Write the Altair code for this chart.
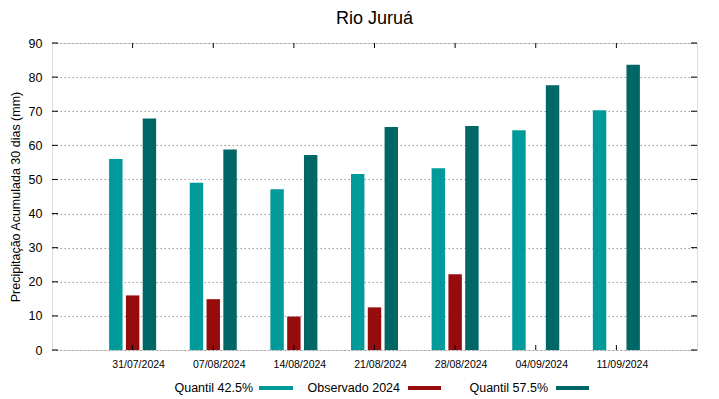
import altair as alt
import pandas as pd

# ---- data ----
dates = ["31/07/2024", "07/08/2024", "14/08/2024", "21/08/2024",
         "28/08/2024", "04/09/2024", "11/09/2024"]
series = ["Quantil 42.5%", "Observado 2024", "Quantil 57.5%"]
q425 = [56.0, 49.0, 47.1, 51.6, 53.3, 64.4, 70.3]
obs = [16.0, 14.9, 9.8, 12.5, 22.2, None, None]
q575 = [67.9, 58.8, 57.2, 65.4, 65.7, 77.6, 83.6]
y_ticks = [0, 10, 20, 30, 40, 50, 60, 70, 80, 90]

colors = ["#009a9a", "#960c0c", "#006666"]
FONT = "Liberation Sans"
W, H = 645, 307

rows = []
for name, vals in zip(series, [q425, obs, q575]):
    for d, v in zip(dates, vals):
        if v is not None:
            rows.append({"date": d, "series": name, "value": v})
df = pd.DataFrame(rows)

color_scale = alt.Scale(domain=series, range=colors)
x_scale = alt.Scale(domain=dates, paddingInner=0, paddingOuter=0.5)
y_scale = alt.Scale(domain=[0, 90], nice=False, zero=True)

x_axis = alt.Axis(title=None, labelAngle=0, ticks=False, domain=False,
                  labelFontSize=10.5, labelPadding=9, labelOffset=6,
                  labelFont=FONT, labelColor="black")
y_axis = alt.Axis(values=y_ticks, title="Precipitação Acumulada 30 dias (mm)",
                  ticks=False, domain=False, labelFontSize=12.5, labelPadding=10,
                  labelFont=FONT, labelColor="black", labelOverlap=False,
                  labelFlush=False,
                  titleFont=FONT, titleFontSize=12.5, titleFontWeight="normal",
                  titleColor="black", titlePadding=6,
                  grid=True, gridColor="#9a9a9a", gridDash=[1.5, 2.5],
                  gridWidth=1)

bars = alt.Chart(df).mark_bar().encode(
    x=alt.X("date:N", sort=dates, scale=x_scale, axis=x_axis),
    xOffset=alt.XOffset("series:N", sort=series,
                        scale=alt.Scale(domain=series, paddingInner=0.2, paddingOuter=1)),
    y=alt.Y("value:Q", scale=y_scale, axis=y_axis),
    color=alt.Color("series:N", scale=color_scale, legend=None),
)

tick_df = pd.DataFrame({"v": y_ticks})
left_ticks = alt.Chart(tick_df).mark_rule(color="black", strokeWidth=1).encode(
    y=alt.Y("v:Q", scale=y_scale, axis=y_axis), x=alt.value(0), x2=alt.value(6))
right_ticks = alt.Chart(tick_df).mark_rule(color="black", strokeWidth=1).encode(
    y=alt.Y("v:Q", scale=y_scale, axis=y_axis), x=alt.value(W), x2=alt.value(W - 6))

date_df = pd.DataFrame({"date": dates})
bottom_ticks = alt.Chart(date_df).mark_rule(color="black", strokeWidth=1).encode(
    x=alt.X("date:N", sort=dates, scale=x_scale, axis=x_axis),
    y=alt.value(H), y2=alt.value(H - 5))
top_ticks = alt.Chart(date_df).mark_rule(color="black", strokeWidth=1).encode(
    x=alt.X("date:N", sort=dates, scale=x_scale, axis=x_axis),
    y=alt.value(0), y2=alt.value(5))

# custom legend: label then colour sample (gnuplot style)
legend_text_right = [201, 348, 496]
legend_sample = [(207, 241), (356, 389), (504, 537)]
legend_y = 345
legend_layers = []
for s, tx, (sx1, sx2) in zip(series, legend_text_right, legend_sample):
    ldf = pd.DataFrame({"series": [s]})
    legend_layers.append(
        alt.Chart(ldf).mark_text(align="right", baseline="middle", font=FONT,
                                 fontSize=12.5, color="black").encode(
            text="series:N", x=alt.value(tx), y=alt.value(legend_y)))
    legend_layers.append(
        alt.Chart(ldf).mark_rule(strokeWidth=4).encode(
            x=alt.value(sx1), x2=alt.value(sx2), y=alt.value(legend_y),
            color=alt.Color("series:N", scale=color_scale, legend=None)))

chart = alt.layer(bars, left_ticks, right_ticks, bottom_ticks, top_ticks,
                  *legend_layers).properties(
    width=W, height=H,
    title=alt.TitleParams("Rio Juruá", fontSize=18, fontWeight="normal",
                          font=FONT, color="black", anchor="middle", offset=9),
    autosize=alt.AutoSizeParams(type="none"),
    padding={"left": 44, "top": 35, "right": 14, "bottom": 48},
).configure_view(stroke="black", strokeWidth=1).configure(background="white")

chart.save("out.html", embed_options={"renderer": "svg", "actions": False})
